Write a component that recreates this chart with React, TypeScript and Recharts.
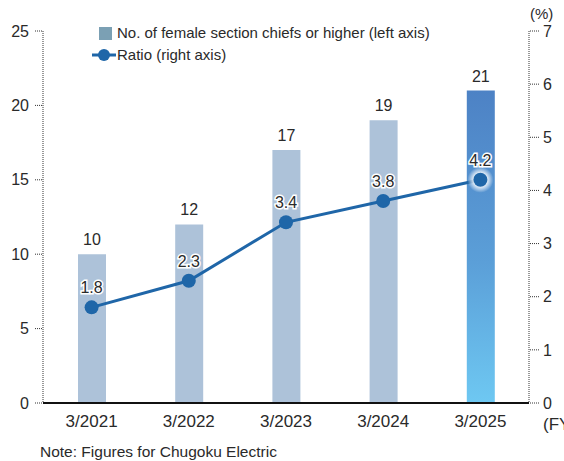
import { ComposedChart, Bar, Line, XAxis, YAxis, LabelList, Cell } from "recharts";

const years = ["3/2021", "3/2022", "3/2023", "3/2024", "3/2025"];
const chiefs = [10, 12, 17, 19, 21];
const ratio = [1.8, 2.3, 3.4, 3.8, 4.2];
const leftTicks = [0, 5, 10, 15, 20, 25];
const rightTicks = [0, 1, 2, 3, 4, 5, 6, 7];

const data = years.map((y, i) => ({ year: y, chiefs: chiefs[i], ratio: ratio[i] }));

const FONT = "'Liberation Sans', Arial, sans-serif";
const LINE = "#1f66a8";
const TXT = "#2a2a2a";
const dotted = { stroke: "#333", strokeDasharray: "1 1" };

function RatioDot(props: any) {
  const { cx, cy, index } = props;
  return (
    <g key={"d" + index}>
      {index === years.length - 1 && <circle cx={cx} cy={cy} r={13} fill="url(#glow)" />}
      <circle cx={cx} cy={cy} r={7} fill={LINE} />
    </g>
  );
}

function RatioLabel(props: any) {
  const { x, y, value } = props;
  return (
    <text x={x} y={y - 14} textAnchor="middle" fontSize={16} fill={TXT} stroke="#fff" strokeWidth={3}
      paintOrder="stroke" fontFamily={FONT}>
      {value}
    </text>
  );
}

function LegendBox() {
  return (
    <div style={{ position: "absolute", left: 92, top: 22, fontFamily: FONT, fontSize: 15, color: TXT, lineHeight: "22px" }}>
      <div style={{ display: "flex", alignItems: "center" }}>
        <span style={{ display: "inline-block", width: 13, height: 13, background: "#7ba0b4", marginLeft: 7, marginRight: 5 }} />
        No. of female section chiefs or higher (left axis)
      </div>
      <div style={{ display: "flex", alignItems: "center" }}>
        <svg width={24} height={14} style={{ marginRight: 1 }}>
          <line x1={0} y1={7} x2={24} y2={7} stroke={LINE} strokeWidth={3} />
          <circle cx={12} cy={7} r={6} fill={LINE} />
        </svg>
        Ratio (right axis)
      </div>
    </div>
  );
}

export default function App() {
  return (
    <div style={{ position: "absolute", left: 0, top: 0, width: 564, height: 461, background: "#fff", fontFamily: FONT }}>
      <ComposedChart width={564} height={461} data={data} margin={{ top: 31, right: 0, bottom: 28, left: 0 }}>
        <defs>
          <linearGradient id="lastBar" x1="0" y1="0" x2="0" y2="1">
            <stop offset="0%" stopColor="#4d82c5" />
            <stop offset="55%" stopColor="#5b9fd8" />
            <stop offset="100%" stopColor="#6ec8f2" />
          </linearGradient>
          <radialGradient id="glow">
            <stop offset="50%" stopColor="#ffffff" stopOpacity={0.9} />
            <stop offset="100%" stopColor="#ffffff" stopOpacity={0} />
          </radialGradient>
        </defs>
        <XAxis dataKey="year" height={30} tickLine={false} axisLine={{ stroke: "#111", strokeWidth: 2 }}
          tick={{ fontSize: 17, fill: TXT, fontFamily: FONT }} tickMargin={6} />
        <YAxis yAxisId="left" width={43} domain={[0, 25]} ticks={leftTicks} interval={0}
          axisLine={dotted} tickLine={dotted} tickSize={8} tickMargin={6}
          tick={{ fontSize: 16, fill: TXT, fontFamily: FONT }} />
        <YAxis yAxisId="right" orientation="right" width={35} domain={[0, 7]} ticks={rightTicks} interval={0}
          axisLine={dotted} tickLine={dotted} tickSize={10} tickMargin={4}
          tick={{ fontSize: 16, fill: TXT, fontFamily: FONT, textAnchor: "start" }} />
        <Bar yAxisId="left" dataKey="chiefs" barSize={28} isAnimationActive={false}>
          {data.map((d, i) => (
            <Cell key={d.year} fill={i === data.length - 1 ? "url(#lastBar)" : "#adc2d9"} />
          ))}
          <LabelList dataKey="chiefs" position="top" offset={9}
            style={{ fontSize: 16, fill: TXT, fontFamily: FONT }} />
        </Bar>
        <Line yAxisId="right" dataKey="ratio" stroke={LINE} strokeWidth={3} isAnimationActive={false}
          dot={<RatioDot />} activeDot={false}>
          <LabelList dataKey="ratio" content={<RatioLabel />} />
        </Line>
      </ComposedChart>
      <LegendBox />
      <div style={{ position: "absolute", left: 530, top: 5, fontSize: 15, color: TXT }}>(%)</div>
      <div style={{ position: "absolute", left: 543, top: 415, fontSize: 17, color: TXT, whiteSpace: "nowrap" }}>(FY</div>
      <div style={{ position: "absolute", left: 40, top: 443, fontSize: 15.5, color: TXT }}>Note: Figures for Chugoku Electric</div>
    </div>
  );
}
